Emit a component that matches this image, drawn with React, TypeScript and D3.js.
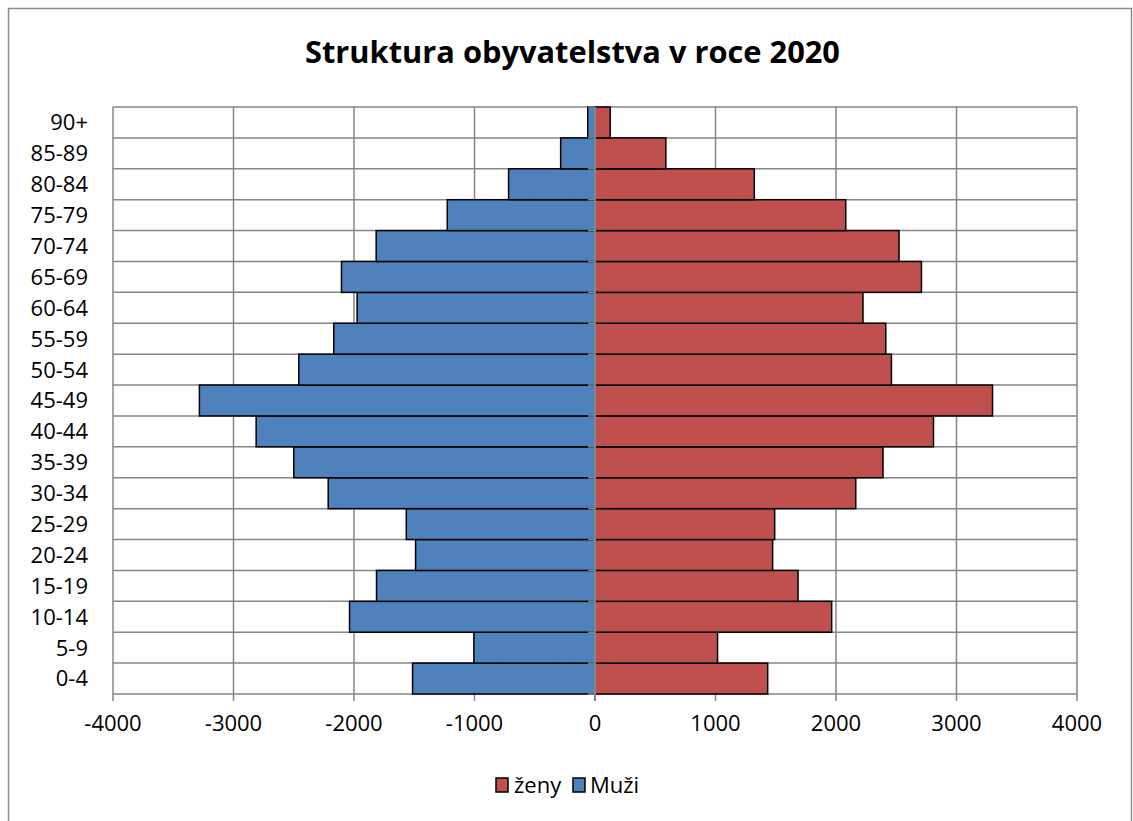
import React from "react";
import * as d3 from "d3";

const categories = ["0-4","5-9","10-14","15-19","20-24","25-29","30-34","35-39","40-44","45-49","50-54","55-59","60-64","65-69","70-74","75-79","80-84","85-89","90+"];
const muzi = [-1514,-1005,-2037,-1813,-1489,-1566,-2214,-2500,-2812,-3283,-2458,-2168,-1974,-2104,-1816,-1226,-717,-285,-60];
const zeny = [1433,1017,1964,1685,1474,1491,2164,2390,2809,3299,2460,2413,2224,2709,2523,2081,1322,588,126];
const xTicks = [-4000,-3000,-2000,-1000,0,1000,2000,3000,4000];
const title = "Struktura obyvatelstva v roce 2020";
const legendItems = [{ name: "ženy", color: "#C0504D" }, { name: "Muži", color: "#4F81BD" }];

const W = 1133, H = 821;
const plot = { left: 113, right: 1077, top: 107, bottom: 694 };
const FONT = "'Open Sans', 'Liberation Sans', sans-serif";
const GRID = "#868686";

export default function App() {
  const x = d3.scaleLinear().domain([-4000, 4000]).range([plot.left, plot.right]);
  const y = d3.scaleBand().domain([...categories].reverse()).range([plot.top, plot.bottom]).padding(0);
  const bw = y.bandwidth();
  const boundaries = d3.range(categories.length + 1).map(i => plot.top + i * bw);

  return (
    <svg width={W} height={H} style={{ position: "absolute", left: 0, top: 0, background: "#fff" }} fontFamily={FONT}>
      <rect x={0} y={0} width={W} height={H} fill="#fff" />
      <rect x={8.5} y={8.5} width={1123} height={830} fill="#fff" stroke="#8c8c8c" strokeWidth={1.5} />
      <text x={572.5} y={63} textAnchor="middle" fontSize={30} fontWeight="bold" fill="#000" textLength={535} lengthAdjust="spacingAndGlyphs">{title}</text>

      {/* horizontal gridlines */}
      {boundaries.map((b, i) => (
        <line key={"h" + i} x1={plot.left} x2={plot.right} y1={b} y2={b} stroke={GRID} strokeWidth={1.5} />
      ))}
      {/* vertical gridlines */}
      {xTicks.map(t => (
        <line key={"v" + t} x1={x(t)} x2={x(t)} y1={plot.top} y2={plot.bottom} stroke={GRID} strokeWidth={1.5} />
      ))}
      {/* bottom ticks */}
      {xTicks.map(t => (
        <line key={"bt" + t} x1={x(t)} x2={x(t)} y1={plot.bottom} y2={plot.bottom + 7} stroke={GRID} strokeWidth={1.5} />
      ))}

      {/* bars */}
      {categories.map((c, i) => {
        const y0 = y(c) as number;
        return (
          <g key={c}>
            <rect x={x(muzi[i])} y={y0} width={x(0) - x(muzi[i])} height={bw} fill="#4F81BD" stroke="#000" strokeWidth={1.5} />
            <rect x={x(0)} y={y0} width={x(zeny[i]) - x(0)} height={bw} fill="#C0504D" stroke="#000" strokeWidth={1.5} />
          </g>
        );
      })}

      {/* category axis at zero */}
      <line x1={x(0)} x2={x(0)} y1={plot.top} y2={plot.bottom + 7} stroke={GRID} strokeWidth={2} />
      {boundaries.map((b, i) => (
        <line key={"yt" + i} x1={x(0) - 7} x2={x(0)} y1={b} y2={b} stroke={GRID} strokeWidth={1.5} />
      ))}

      {/* category labels */}
      {categories.map(c => (
        <text key={"l" + c} x={88} y={(y(c) as number) + bw / 2} dy="0.36em" textAnchor="end" fontSize={22} fill="#000">{c}</text>
      ))}
      {/* x tick labels */}
      {xTicks.map(t => (
        <text key={"xl" + t} x={x(t)} y={731} textAnchor="middle" fontSize={22} fill="#000">{t}</text>
      ))}

      {/* legend */}
      <g>
        <rect x={496} y={778} width={12} height={14} fill={legendItems[0].color} stroke="#000" strokeWidth={1.5} />
        <text x={514} y={793} fontSize={22} fill="#000">{legendItems[0].name}</text>
        <rect x={573} y={778} width={12} height={14} fill={legendItems[1].color} stroke="#000" strokeWidth={1.5} />
        <text x={590} y={793} fontSize={22} fill="#000">{legendItems[1].name}</text>
      </g>
    </svg>
  );
}
